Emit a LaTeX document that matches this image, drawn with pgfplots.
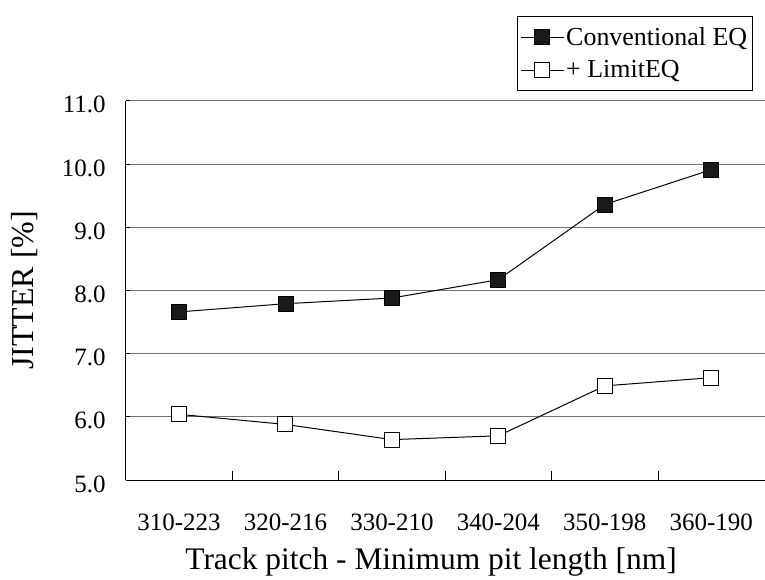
\documentclass[border=0pt]{standalone}
\usepackage{fontspec}
\setmainfont{Liberation Serif}
\usepackage{pgfplots}
\pgfplotsset{compat=1.18}

\begin{document}
\begin{tikzpicture}
\begin{axis}[
  name=ax,
  scale only axis, width=640pt, height=380pt,
  xmin=-0.5, xmax=5.5, ymin=5, ymax=11,
  axis x line*=bottom, axis y line*=left,
  axis line style={black, line width=1pt},
  xtick={0,...,5},
  xticklabels={310-223,320-216,330-210,340-204,350-198,360-190},
  major x tick style={draw=none},
  minor xtick={0.5,1.5,...,4.5},
  minor x tick style={black, line width=0.8pt},
  minor tick length=9pt,
  x tick label style={font=\fontsize{25}{28}\selectfont, anchor=center, yshift=-42pt},
  ytick={5,6,...,11},
  y tick style={black, line width=0.8pt},
  major tick length=4pt,
  y tick label style={font=\fontsize{25}{28}\selectfont, anchor=east, inner sep=0pt, xshift=-20pt, yshift=-4pt},
  /pgf/number format/.cd, fixed, fixed zerofill, precision=1, assume math mode=true,
  /pgfplots/.cd,
  ymajorgrids,
  major grid style={black!55, line width=1pt},
  extra y ticks={11}, extra y tick labels={},
  extra y tick style={grid style={black, line width=1pt}},
  xlabel={Track pitch - Minimum pit length [nm]},
  xlabel style={font=\fontsize{31.5}{34}\selectfont, at={(axis description cs:0.478,0)}, anchor=center, yshift=-82pt},
  ylabel={JITTER [\%]},
  ylabel style={font=\fontsize{32}{34}\selectfont, at={(axis description cs:-0.16,0.5)}, anchor=center, yshift=-1pt},
  legend style={at={(axis description cs:1,1)}, anchor=north east, xshift=-12pt, yshift=85pt,
    font=\fontsize{26}{30}\selectfont, draw=black, line width=0.8pt,
    cells={anchor=west, inner xsep=0.5pt, inner ysep=2pt},
    row sep=10pt, inner xsep=3pt, inner ysep=9pt},
  legend image code/.code={\draw[mark repeat=2,mark phase=2,#1] plot coordinates {(0pt,0pt) (21.5pt,0pt) (43pt,0pt)};},
]
\addplot[black, line width=1pt, mark=square*, mark size=7.5pt, mark options={fill=black!90, draw=black, line width=0.8pt}]
  coordinates {(0,7.66)(1,7.79)(2,7.88)(3,8.17)(4,9.36)(5,9.91)};
\addlegendentry{Conventional EQ}
\addplot[black, line width=1pt, mark=square*, mark size=7.5pt, mark options={fill=white, draw=black, line width=1pt}]
  coordinates {(0,6.04)(1,5.88)(2,5.64)(3,5.70)(4,6.49)(5,6.62)};
\addlegendentry{+ LimitEQ}
\end{axis}
\useasboundingbox (ax.south west) ++(-126pt,-100pt) rectangle ++(765pt,581pt);
\end{tikzpicture}
\end{document}
